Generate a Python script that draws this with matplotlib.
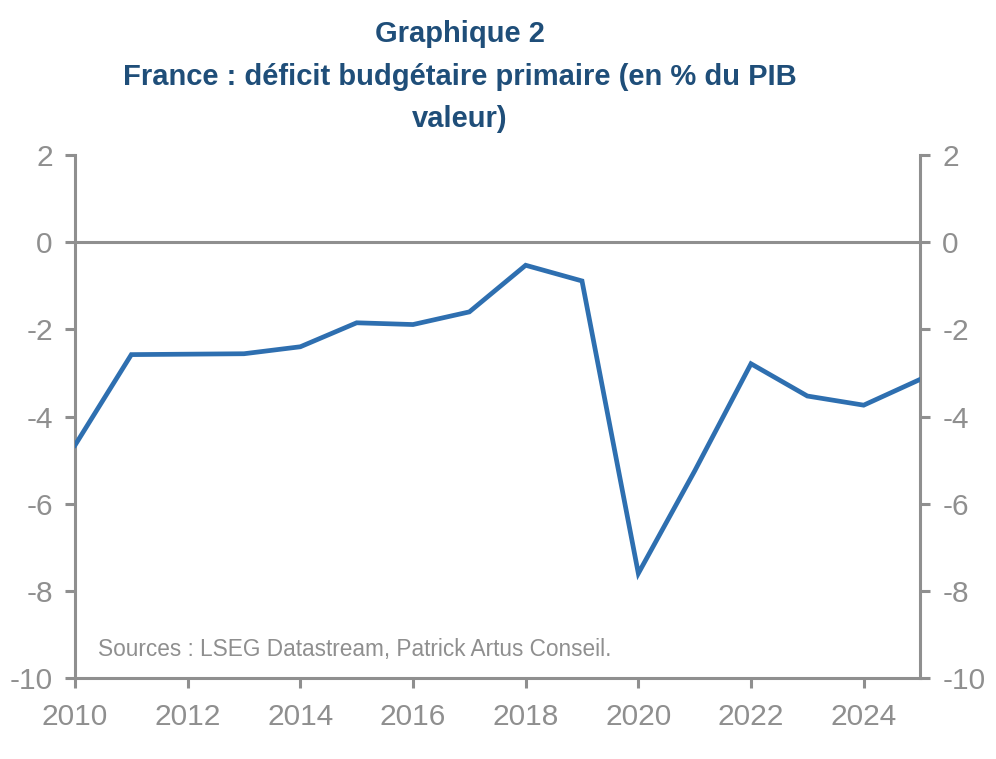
import matplotlib
matplotlib.use("Agg")
import matplotlib.pyplot as plt
from matplotlib import font_manager

years = [2010, 2011, 2012, 2013, 2014, 2015, 2016, 2017, 2018, 2019, 2020, 2021, 2022, 2023, 2024, 2025]
values = [-4.66, -2.58, -2.57, -2.56, -2.40, -1.85, -1.89, -1.60, -0.53, -0.89, -7.60, -5.25, -2.79, -3.53, -3.74, -3.15]
yticks = [2, 0, -2, -4, -6, -8, -10]
xticks = [2010, 2012, 2014, 2016, 2018, 2020, 2022, 2024]

names = {f.name for f in font_manager.fontManager.ttflist}
fam = ["Liberation Sans Narrow", "Liberation Sans", "DejaVu Sans"]
fam = [f for f in fam if f in names] or ["DejaVu Sans"]
plt.rcParams['font.family'] = fam

GREY = "#8f8f8f"
BLUE = "#2E6FB0"
TITLE = "#1F4E79"

fig = plt.figure(figsize=(9.96, 7.59), dpi=100)
ax = fig.add_axes([0.0753, 0.1067, 0.8484, 0.6891])

ax.plot(years, values, color=BLUE, lw=3.4, solid_joinstyle='miter', zorder=3)
ax.axhline(0, color=GREY, lw=2.2, zorder=2)

ax.set_xlim(2010, 2025)
ax.set_ylim(-10, 2)
ax.set_xticks(xticks)
ax.set_xticklabels([str(x) for x in xticks])
ax.set_yticks(yticks)
ax.set_yticklabels([str(v) for v in yticks])

ax.spines['top'].set_visible(False)
for s in ['left', 'right', 'bottom']:
    ax.spines[s].set_color(GREY)
    ax.spines[s].set_linewidth(2.2)

ax.tick_params(axis='both', colors=GREY, labelcolor=GREY, labelsize=21.5, width=2.2, length=7, direction='out')
ax.tick_params(axis='y', which='both', left=True, right=True, labelleft=True, labelright=True, pad=9)
ax.tick_params(axis='x', pad=11)

ax.text(0.027, 0.055, "Sources : LSEG Datastream, Patrick Artus Conseil.", transform=ax.transAxes,
        color=GREY, fontsize=16.3, ha='left', va='center')

fig.text(0.462, 0.955, "Graphique 2", ha='center', va='center', fontsize=21, fontweight='bold', color=TITLE)
fig.text(0.462, 0.898, "France : déficit budgétaire primaire (en % du PIB", ha='center', va='center',
         fontsize=21, fontweight='bold', color=TITLE)
fig.text(0.462, 0.843, "valeur)", ha='center', va='center', fontsize=21, fontweight='bold', color=TITLE)

fig.savefig("out.png", dpi=100)
